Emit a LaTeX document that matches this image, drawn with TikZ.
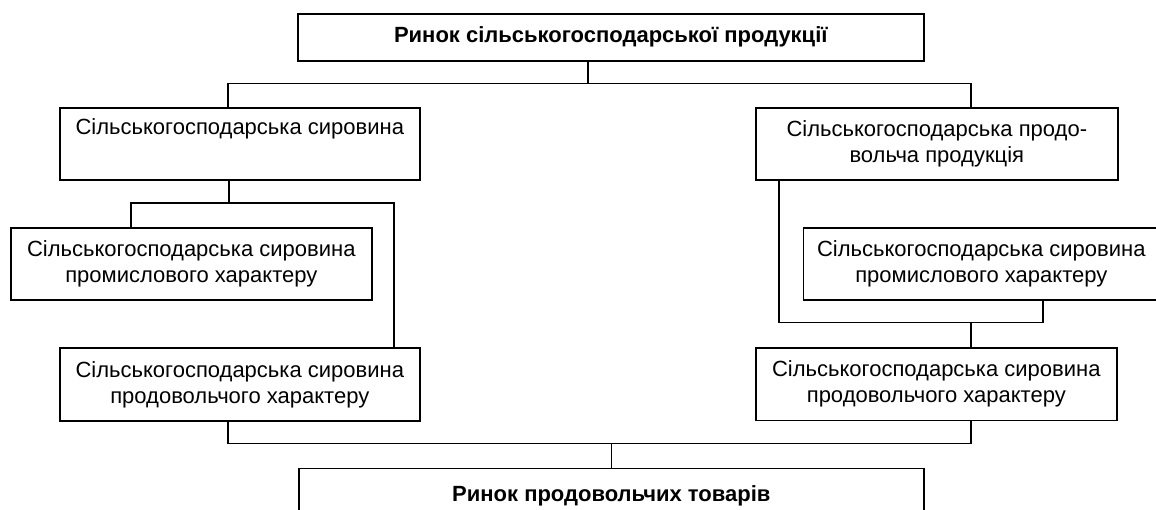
\documentclass[tikz,border=0pt]{standalone}
\usepackage{fontspec}
\setmainfont{Liberation Sans}
\begin{document}
\begin{tikzpicture}[x=1pt,y=-1pt,
  box/.style={draw, line width=1.6pt, inner sep=0pt, align=center,
    font=\fontsize{22}{26}\selectfont, anchor=north west},
  boldbox/.style={box, font=\fontsize{22}{26}\selectfont\bfseries},
  conn/.style={line width=1.6pt}]
\useasboundingbox (0,0) rectangle (1156,510);
% boxes
\node[boldbox, minimum width=626pt, minimum height=47pt] (top) at (297,13) {Ринок сільськогосподарської продукції};
\node[box, minimum width=360pt, minimum height=72pt] (A1) at (59,107) {Сільськогосподарська сировина\\\strut};
\node[box, minimum width=362pt, minimum height=72pt] (B1) at (755,107) {Сільськогосподарська продо-\\вольча продукція};
\node[box, minimum width=361pt, minimum height=72pt] (A2) at (10,227.5) {Сільськогосподарська сировина\\промислового характеру};
\node[box, minimum width=356pt, minimum height=72pt] (B2) at (802.5,227) {Сільськогосподарська сировина\\промислового характеру};
\node[box, minimum width=360pt, minimum height=72.5pt] (A3) at (59,347.5) {Сільськогосподарська сировина\\продовольчого характеру};
\node[box, minimum width=361pt, minimum height=72pt] (B3) at (755,347.5) {Сільськогосподарська сировина\\продовольчого характеру};
\node[boldbox, minimum width=625pt, minimum height=55pt] (bot) at (298,467.5) {Ринок продовольчих товарів};
% junction coordinates
\coordinate (h1L) at (228,83.5);
\coordinate (h1R) at (971,83.5);
\coordinate (h2L) at (131,203.3);
\coordinate (h2R) at (394,203.3);
\coordinate (h3L) at (228,443.3);
\coordinate (h3R) at (971,443.3);
\coordinate (r1) at (779,322.7);
\coordinate (r2) at (1043,322.7);
\coordinate (r3) at (971,322.7);
% connectors
\draw[conn] ([xshift=-23pt]top.south) -- ([xshift=-23pt]top.south |- h1L);
\draw[conn] (h1L |- A1.north) -- (h1L) -- (h1R) -- (h1R |- B1.north);
\draw[conn] ([xshift=-11pt]A1.south) -- ([xshift=-11pt]A1.south |- h2L);
\draw[conn] (h2L |- A2.north) -- (h2L) -- (h2R) -- (h2R |- A3.north);
\draw[conn] ([xshift=24pt]B1.south west) -- ([xshift=24pt]B1.south west |- r1) -- (r2) -- (r2 |- B2.south);
\draw[conn] (r3) -- (r3 |- B3.north);
\draw[conn] (h3L |- A3.south) -- (h3L) -- (h3R) -- (h3R |- B3.south);
\draw[conn] (bot.north) -- (bot.north |- h3L);
\end{tikzpicture}
\end{document}
